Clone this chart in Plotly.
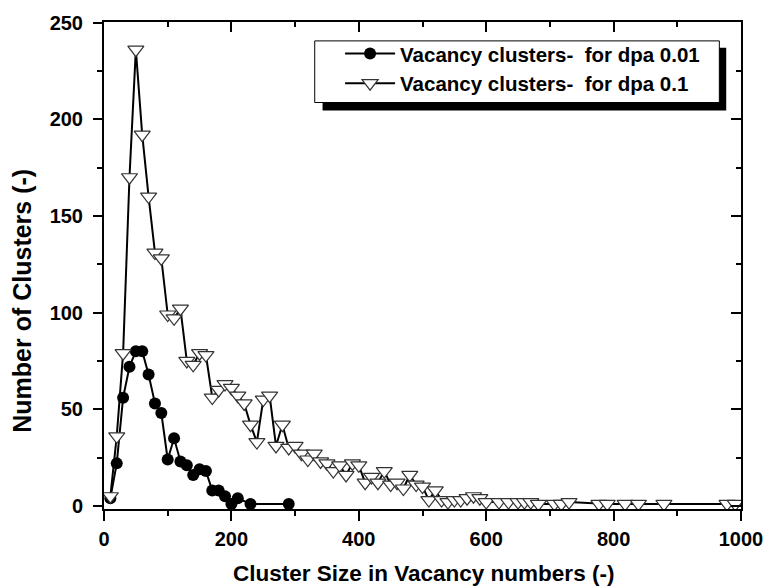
import plotly.graph_objects as go

# Series 1: dpa 0.01 (filled circles)
x1 = [10, 20, 30, 40, 50, 60, 70, 80, 90, 100, 110, 120, 130, 140, 150, 160,
      170, 180, 190, 200, 210, 230, 290]
y1 = [4, 22, 56, 72, 80, 80, 68, 53, 48, 24, 35, 23, 21, 16, 19, 18,
      8, 8, 5, 1, 4, 1, 1]

# Series 2: dpa 0.1 (open down-triangles)
x2 = [10, 20, 30, 40, 50, 60, 70, 80, 90, 100, 110, 120, 130, 140, 150, 160,
      170, 180, 190, 200, 210, 220, 230, 240, 250, 260, 270, 280, 290, 300,
      310, 320, 330, 340, 350, 360, 370, 380, 390, 400, 410, 420, 430, 440,
      450, 460, 470, 480, 490, 500, 510, 520, 530, 540, 550, 560, 570, 580,
      590, 600, 620, 635, 650, 660, 670, 682, 707, 718, 730, 777, 790, 818,
      839, 879, 978, 991]
y2 = [5, 36, 79, 170, 236, 192, 160, 131, 128, 99, 97, 102, 75, 73, 79, 78,
      56, 60, 63, 61, 57, 53, 42, 33, 55, 57, 31, 42, 30, 31,
      27, 24, 27, 23, 22, 18, 21, 16, 22, 21, 12, 15, 12, 18,
      11, 12, 9, 16, 11, 10, 3, 8, 3, 2, 3, 3, 4, 5,
      4, 2, 2, 2, 2, 2, 2, 1, 1, 1, 2, 1, 1, 1,
      1, 1, 1, 1]

name1 = "Vacancy clusters-\u00a0 for dpa 0.01"
name2 = "Vacancy clusters-\u00a0 for dpa 0.1"

x_ticks = [0, 200, 400, 600, 800, 1000]
y_ticks = [0, 50, 100, 150, 200, 250]

FONT = "Liberation Sans, Arial, Helvetica, sans-serif"
XR = [0, 1000]
YR = [-1.6, 250.3]

fig = go.Figure()
fig.add_trace(go.Scatter(
    x=x1, y=y1, mode="lines+markers", name=name1,
    line=dict(color="black", width=2),
    marker=dict(symbol="circle", size=12, color="black",
                line=dict(color="black", width=0)),
))
fig.add_trace(go.Scatter(
    x=x2, y=y2, mode="lines+markers", name=name2,
    line=dict(color="black", width=2),
    marker=dict(symbol="triangle-down", size=14, color="white",
                line=dict(color="#333333", width=1.2)),
))
# empty trace to create the mirrored (top/right) axes with inward ticks
fig.add_trace(go.Scatter(x=[], y=[], xaxis="x2", yaxis="y2",
                         showlegend=False, hoverinfo="skip"))

tickfont = dict(family=FONT, size=20, color="black", weight="bold")

fig.update_layout(
    width=775, height=588,
    margin=dict(l=104, r=24, t=20, b=79),
    paper_bgcolor="white", plot_bgcolor="white",
    showlegend=True,
    xaxis=dict(
        range=XR, tickvals=x_ticks, ticktext=[str(v) for v in x_ticks],
        ticks="outside", ticklen=10, tickwidth=2, tickcolor="black",
        minor=dict(tickvals=[100, 300, 500, 700, 900], ticks="outside",
                   ticklen=5, tickwidth=2, tickcolor="black"),
        showline=True, linewidth=2, linecolor="black", mirror=True,
        showgrid=False, zeroline=False, tickfont=tickfont,
        ticklabelstandoff=1,
    ),
    yaxis=dict(
        range=YR, tickvals=y_ticks, ticktext=[str(v) for v in y_ticks],
        ticks="outside", ticklen=9, tickwidth=2, tickcolor="black",
        minor=dict(tickvals=[25, 75, 125, 175, 225], ticks="outside",
                   ticklen=5, tickwidth=2, tickcolor="black"),
        showline=True, linewidth=2, linecolor="black", mirror=True,
        showgrid=False, zeroline=False, tickfont=tickfont,
        ticklabelstandoff=6,
    ),
    xaxis2=dict(
        range=XR, overlaying="x", side="top", anchor="y2",
        tickvals=x_ticks, ticks="inside", ticklen=10, tickwidth=2,
        tickcolor="black", showticklabels=False,
        minor=dict(tickvals=[100, 300, 500, 700, 900], ticks="inside",
                   ticklen=5, tickwidth=2, tickcolor="black"),
        showline=False, showgrid=False, zeroline=False,
    ),
    yaxis2=dict(
        range=YR, overlaying="y", side="right", anchor="x2",
        tickvals=y_ticks, ticks="inside", ticklen=10, tickwidth=2,
        tickcolor="black", showticklabels=False,
        minor=dict(tickvals=[25, 75, 125, 175, 225], ticks="inside",
                   ticklen=5, tickwidth=2, tickcolor="black"),
        showline=False, showgrid=False, zeroline=False,
    ),
    legend=dict(
        x=0.3706, y=0.976, xanchor="left", yanchor="top",
        bgcolor="rgba(0,0,0,0)", borderwidth=0,
        font=dict(family=FONT, size=20.5, color="black", weight="bold"),
        itemwidth=50, tracegroupgap=0,
    ),
    shapes=[
        dict(type="rect", xref="paper", yref="paper",
             x0=0.3431, x1=0.9768, y0=0.8184, y1=0.9469,
             fillcolor="black", line=dict(width=0), layer="above"),
        dict(type="rect", xref="paper", yref="paper",
             x0=0.3308, x1=0.966, y0=0.8347, y1=0.9612,
             fillcolor="white", line=dict(color="black", width=1),
             layer="above"),
    ],
    annotations=[
        dict(text="Cluster Size in Vacancy numbers (-)", xref="paper",
             yref="paper", x=0.5008, y=-0.1327, xanchor="center",
             yanchor="middle", showarrow=False,
             font=dict(family=FONT, size=22.5, color="black", weight="bold")),
        dict(text="Number of Clusters (-)", xref="paper", yref="paper",
             x=-0.128, y=0.4286, xanchor="center", yanchor="middle",
             textangle=-90, showarrow=False,
             font=dict(family=FONT, size=25, color="black", weight="bold")),
    ],
)

fig.write_html("out.html")
